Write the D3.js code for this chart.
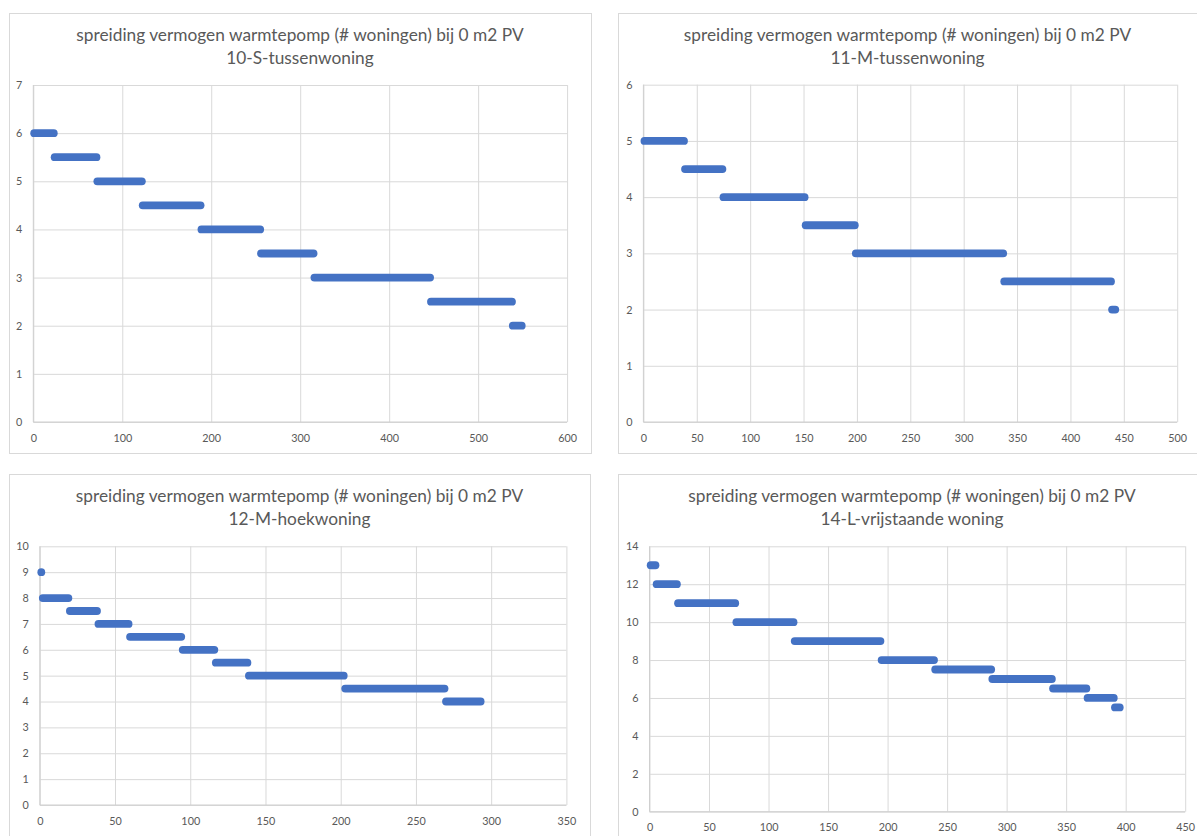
<!DOCTYPE html>
<html>
<head>
<meta charset="utf-8">
<script src="https://cdn.jsdelivr.net/npm/d3@7"></script>
<style>
  body { margin: 0; background: #fff; }
  svg { display: block; }
</style>
</head>
<body>
<div id="chart"></div>
<script>
// data: one bar of dots per power level (kW), from house index start to end
const titleLine1 = "spreiding vermogen warmtepomp (# woningen) bij 0 m2 PV";

const sTussenLevels = [6, 5.5, 5, 4.5, 4, 3.5, 3, 2.5, 2];
const sTussenStart  = [1, 24, 72, 123, 189, 256, 316, 447, 539];
const sTussenEnd    = [23, 71, 122, 188, 255, 315, 446, 538, 549];

const mTussenLevels = [5, 4.5, 4, 3.5, 3, 2.5, 2];
const mTussenStart  = [1, 39, 75, 152, 199, 338, 439];
const mTussenEnd    = [38, 74, 151, 198, 337, 438, 442];

const mHoekLevels = [9, 8, 7.5, 7, 6.5, 6, 5.5, 5, 4.5, 4];
const mHoekStart  = [1, 2, 20, 39, 60, 95, 117, 139, 203, 270];
const mHoekEnd    = [1, 19, 38, 59, 94, 116, 138, 202, 269, 293];

const lVrijLevels = [13, 12, 11, 10, 9, 8, 7.5, 7, 6.5, 6, 5.5];
const lVrijStart  = [1, 6, 24, 73, 122, 195, 240, 288, 339, 368, 391];
const lVrijEnd    = [5, 23, 72, 121, 194, 239, 287, 338, 367, 390, 395];

const xTicksS = [0, 100, 200, 300, 400, 500, 600];
const xTicksM = [0, 50, 100, 150, 200, 250, 300, 350, 400, 450, 500];
const xTicksH = [0, 50, 100, 150, 200, 250, 300, 350];
const xTicksL = [0, 50, 100, 150, 200, 250, 300, 350, 400, 450];
const yTicksS = [0, 1, 2, 3, 4, 5, 6, 7];
const yTicksM = [0, 1, 2, 3, 4, 5, 6];
const yTicksH = [0, 1, 2, 3, 4, 5, 6, 7, 8, 9, 10];
const yTicksL = [0, 2, 4, 6, 8, 10, 12, 14];

const charts = [
  { sub: "10-S-tussenwoning", levels: sTussenLevels, start: sTussenStart, end: sTussenEnd, xTicks: xTicksS, yTicks: yTicksS,
    frame: [9, 13, 582, 440], plot: [33.3, 567.1, 85, 422] },
  { sub: "11-M-tussenwoning", levels: mTussenLevels, start: mTussenStart, end: mTussenEnd, xTicks: xTicksM, yTicks: yTicksM,
    frame: [618, 13, 579, 440], plot: [643.4, 1177.2, 84.7, 422] },
  { sub: "12-M-hoekwoning", levels: mHoekLevels, start: mHoekStart, end: mHoekEnd, xTicks: xTicksH, yTicks: yTicksH,
    frame: [9, 474, 581, 380], plot: [39.8, 566.4, 546.3, 805] },
  { sub: "14-L-vrijstaande woning", levels: lVrijLevels, start: lVrijStart, end: lVrijEnd, xTicks: xTicksL, yTicks: yTicksL,
    frame: [618, 474, 588, 380], plot: [649.5, 1185.2, 546.3, 811.7] }
];

const svg = d3.select("#chart")
  .append("svg")
    .attr("width", 1197)
    .attr("height", 836)
    .attr("viewBox", "0 0 1197 836");

const font = "Lato, 'Open Sans', sans-serif";
const textGrey = "#595959";
const gridGrey = "#d9d9d9";
const blue = "#4472c4";
const r = 3.9;

charts.forEach(c => {
  const [fx, fy, fw, fh] = c.frame;
  const [pl, pr, pt, pb] = c.plot;

  const g = svg.append("g");

  g.append("rect")
    .attr("x", fx + 0.5)
    .attr("y", fy + 0.5)
    .attr("width", fw)
    .attr("height", fh)
    .attr("fill", "#fff")
    .attr("stroke", gridGrey);

  const title = g.append("text")
    .attr("text-anchor", "middle")
    .attr("font-family", font)
    .attr("font-size", "17.3px")
    .attr("fill", textGrey);
  title.append("tspan").attr("x", fx + fw / 2).attr("y", fy + 28).text(titleLine1);
  title.append("tspan").attr("x", fx + fw / 2).attr("y", fy + 50.5).text(c.sub);

  const x = d3.scaleLinear()
    .domain([0, d3.max(c.xTicks)])
    .range([pl, pr]);
  const y = d3.scaleLinear()
    .domain([0, d3.max(c.yTicks)])
    .range([pb, pt]);

  const xAxis = g.append("g")
    .attr("transform", `translate(0,${pb})`)
    .call(d3.axisBottom(x).tickValues(c.xTicks).tickFormat(d3.format("d"))
      .tickSize(-(pb - pt)).tickPadding(12));
  const yAxis = g.append("g")
    .attr("transform", `translate(${pl},0)`)
    .call(d3.axisLeft(y).tickValues(c.yTicks).tickFormat(d3.format("d"))
      .tickSize(-(pr - pl)).tickPadding(11));

  [xAxis, yAxis].forEach(a => {
    a.select(".domain").remove();
    a.selectAll("line").attr("stroke", gridGrey).attr("stroke-width", 1);
    a.selectAll("text")
      .attr("fill", textGrey)
      .attr("font-family", font)
      .attr("font-size", "10.8px");
  });

  // axis lines
  g.append("line")
    .attr("x1", pl).attr("x2", pr)
    .attr("y1", y(0)).attr("y2", y(0))
    .attr("stroke", "#cfcfcf");
  g.append("line")
    .attr("x1", x(0)).attr("x2", x(0))
    .attr("y1", pt).attr("y2", pb)
    .attr("stroke", "#cfcfcf");

  // runs of markers: consecutive dots merge into a rounded bar
  const runs = c.levels.map((v, i) => ({ v, s: c.start[i], e: c.end[i] }));
  g.append("g")
    .selectAll("rect")
    .data(runs)
    .join("rect")
      .attr("x", d => x(d.s) - r)
      .attr("y", d => y(d.v) - r)
      .attr("width", d => x(d.e) - x(d.s) + 2 * r)
      .attr("height", 2 * r)
      .attr("rx", r)
      .attr("fill", blue);
});
</script>
</body>
</html>
